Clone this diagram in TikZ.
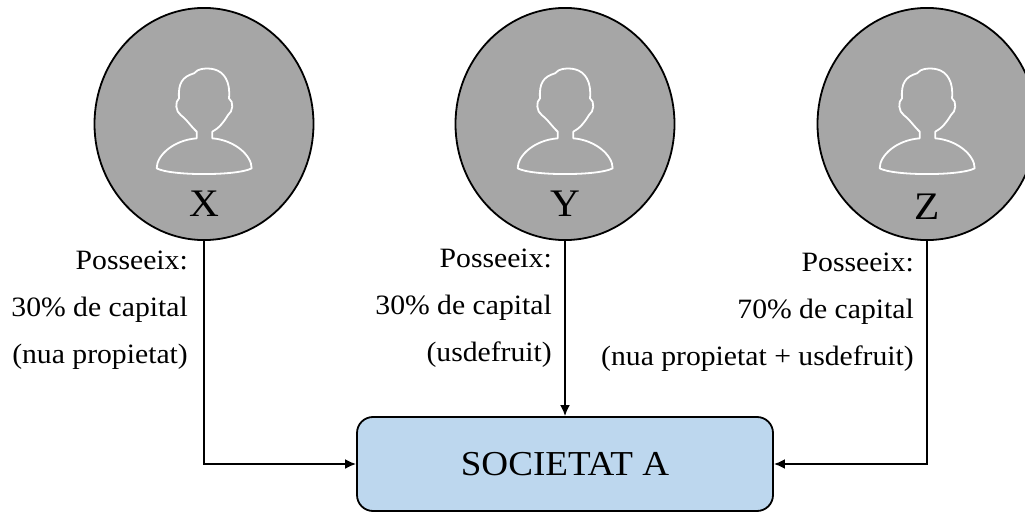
\documentclass[tikz,border=0pt]{standalone}
\usepackage{fontspec}
\setmainfont[FakeStretch=1.06]{Liberation Serif}
\usetikzlibrary{arrows.meta}
\definecolor{figgray}{HTML}{A6A6A6}
\definecolor{boxblue}{HTML}{BDD7EE}
\tikzset{
  discstyle/.style={circle,draw=black,line width=1.8pt,fill=figgray,minimum size=219pt,inner sep=0pt,yscale=1.06},
  link/.style={draw=black,line width=2pt,-{Latex[length=11pt,width=10pt]}},
  stake/.style={align=right,anchor=east,inner sep=0pt,font=\fontsize{28}{47}\selectfont},
  letter/.style={inner sep=0pt,font=\fontsize{39}{39}\selectfont},
  company/.style={draw=black,line width=1.8pt,fill=boxblue,rounded corners=16pt,minimum width=416pt,minimum height=94pt,inner sep=0pt,font=\fontsize{35}{35}\selectfont},
  icon/.pic={
    \draw[white,line width=1.8pt,line join=round,x=0.3333pt,y=-0.3333pt,shift={(-340,-372)}]
      (198,505) .. controls (198,465) and (250,420) .. (318,415)
      -- (318,395) .. controls (300,378) and (285,355) .. (270,345)
      .. controls (255,335) and (252,305) .. (265,295)
      .. controls (262,250) and (275,230) .. (310,220)
      .. controls (320,205) and (350,203) .. (370,208)
      .. controls (400,215) and (420,245) .. (415,295)
      .. controls (430,305) and (427,335) .. (412,345)
      .. controls (400,365) and (385,385) .. (365,395)
      -- (365,415) .. controls (430,420) and (483,465) .. (483,505)
      .. controls (440,528) and (240,528) .. (198,505) -- cycle;
  }
}
\begin{document}
\begin{tikzpicture}[x=1pt,y=-1pt]
\useasboundingbox (0,0) rectangle (1025,513);
\fill[white] (0,0) rectangle (1025,513);
\node[discstyle] (X) at (204,124) {};
\node[discstyle] (Y) at (565,124) {};
\node[discstyle] (Z) at (927,124) {};
\pic at (204,124) {icon};
\pic at (565,124) {icon};
\pic at (927,124) {icon};
\node[letter] (lx) at (204,204) {X};
\node[letter] (ly) at (565,204) {Y};
\node[letter] (lz) at (927,207) {Z};
\node[company] (A) at (565,464) {SOCIETAT A};
\draw[link] (X.south) |- (A.west);
\draw[link] (Y.south) -- (A.north);
\draw[link] (Z.south) |- (A.east);
\node[stake] (tx) at (188,310) {Posseeix:\\30\% de capital\\(nua propietat)};
\node[stake] (ty) at (552,308) {Posseeix:\\30\% de capital\\(usdefruit)};
\node[stake] (tz) at (914,312) {Posseeix:\\70\% de capital\\(nua propietat + usdefruit)};
\end{tikzpicture}
\end{document}
